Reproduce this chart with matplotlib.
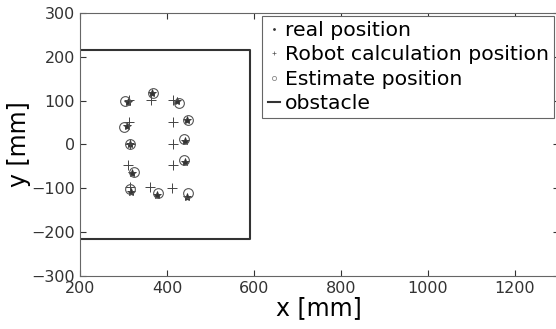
import matplotlib.pyplot as plt
from matplotlib.lines import Line2D

# real position (*)
real_x = [311, 366, 424, 309, 445, 316, 441, 319, 441, 317, 378, 445]
real_y = [98, 117, 100, 42, 57, 1, 9, -66, -41, -108, -115, -119]
# robot calculation position (+)
robot_x = [313, 363, 414, 313, 413, 315, 413, 311, 413, 315, 361, 411]
robot_y = [101, 101, 101, 52, 51, 1, 1, -47, -47, -98, -96, -99]
# estimate position (o)
est_x = [303, 368, 428, 301, 449, 315, 439, 323, 438, 315, 380, 449]
est_y = [100, 118, 94, 39, 56, 1, 12, -62, -35, -102, -111, -111]
# obstacle outline
obs_x = [200, 590, 590, 200]
obs_y = [215, 215, -215, -215]

fig = plt.figure(figsize=(5.56, 3.29), dpi=100)
ax = fig.add_axes([0.1439, 0.1611, 0.8606, 0.7994])

ax.plot(real_x, real_y, '*', color='#333333', ms=6, mew=0.6)
ax.plot(robot_x, robot_y, '+', color='#444444', ms=7, mew=0.7)
ax.plot(est_x, est_y, 'o', mfc='none', mec='#555555', ms=7, mew=0.8)
ax.plot(obs_x, obs_y, '-', color='#333333', lw=1.5)

ax.set_xlim(200, 1300)
ax.set_ylim(-300, 300)
ax.set_xticks(range(200, 1300, 200))
ax.set_yticks(range(-300, 301, 100))
ax.tick_params(direction='in', top=True, right=True, labelsize=11.5,
               colors='#333333', length=4)
for s in ax.spines.values():
    s.set_color('#666666')
ax.set_xlabel('x [mm]', fontsize=17, labelpad=0)
ax.set_ylabel('y [mm]', fontsize=17, labelpad=0)

handles = [
    Line2D([], [], ls='none', marker='.', ms=2, color='#333333'),
    Line2D([], [], ls='none', marker='+', ms=3, mew=0.5, color='#555555'),
    Line2D([], [], ls='none', marker='o', ms=3, mfc='none', mec='#888888', mew=0.6),
    Line2D([], [], color='#333333', lw=1.5),
]
labels = ['real position', 'Robot calculation position', 'Estimate position', 'obstacle']
leg = ax.legend(handles, labels, loc='upper right', bbox_to_anchor=(0.9906, 0.99),
                fontsize=14.7, handlelength=0.6, handletextpad=0.25, borderpad=0.25,
                labelspacing=0.27, borderaxespad=0, fancybox=False, framealpha=1,
                edgecolor='#666666')
leg.get_frame().set_linewidth(0.8)

fig.savefig('out.png', dpi=100)
